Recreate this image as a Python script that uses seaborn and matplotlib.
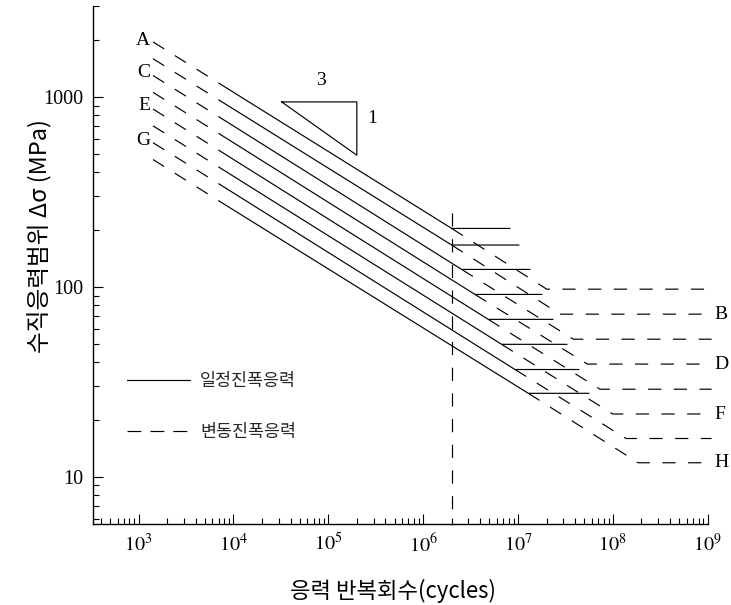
import numpy as np
import pandas as pd
import matplotlib
matplotlib.use("Agg")
import matplotlib.pyplot as plt
import seaborn as sns
from matplotlib.lines import Line2D
from matplotlib.ticker import FixedLocator, FixedFormatter, LogLocator, NullFormatter

# ---------------- data ----------------
categories = ["A", "B", "C", "D", "E", "F", "G", "H"]

# start of the dashed extrapolated part (low cycles)
N_start = [1420, 1420, 1420, 1420, 1420, 1420, 1420, 1420]
S_start = [1948, 1589, 1296, 1057, 863, 704, 574, 468]
# start of the solid sloped part
N_solid = [7400, 7400, 7400, 7400, 7400, 7400, 7400, 7400]
S_solid = [1162, 948, 773, 631, 515, 420, 343, 279]
# constant amplitude fatigue limit knee and its horizontal end
N_cafl = [2.0e6, 2.0e6, 2.55e6, 3.52e6, 4.86e6, 6.73e6, 9.30e6, 1.285e7]
S_cafl = [203, 166, 123.5, 91.2, 67.4, 49.8, 36.7, 27.5]
N_cafl_end = [8.24e6, 1.025e7, 1.34e7, 1.79e7, 2.34e7, 3.29e7, 4.40e7, 5.6e7]
# variable amplitude fatigue limit knee
N_vafl = [2.01e7, 2.77e7, 3.83e7, 5.38e7, 7.32e7, 9.96e7, 1.376e8, 1.855e8]
S_vafl = [97.2, 71.8, 53.0, 39.2, 28.9, 21.4, 15.9, 11.85]
N_end = [1.1e9, 1.1e9, 1.1e9, 1.1e9, 1.1e9, 1.1e9, 1.1e9, 1.1e9]

# 2 x 10^6 reference line
N_ref = [2.0e6, 2.0e6]
S_ref = [244, 5.6]

# slope triangle
tri_N = [3.23e4, 2.0e5, 2.0e5, 3.23e4]
tri_S = [941, 941, 493, 941]
tri_text = ["3", "1"]
tri_text_N = [8.4e4, 2.9e5]
tri_text_S = [1224, 773]

left_labels = ["A", "C", "E", "G"]
left_label_S = [1987, 1349, 904, 592]
left_label_N = 1330
right_labels = ["B", "D", "F", "H"]
right_label_S = [71.8, 39.2, 21.4, 11.85]
right_label_N = 1.17e9

xtick_vals = [1e3, 1e4, 1e5, 1e6, 1e7, 1e8, 1e9]
xtick_labels = [r"$10^{3}$", r"$10^{4}$", r"$10^{5}$", r"$10^{6}$",
                r"$10^{7}$", r"$10^{8}$", r"$10^{9}$"]
ytick_vals = [10, 100, 1000]
ytick_labels = ["10", "100", "1000"]

legend_labels = ["일정진폭응력", "변동진폭응력"]
xlabel = "응력 반복회수(cycles)"
ylabel = "수직응력범위 Δσ (MPa)"

# ---------------- build segment tables ----------------
solid_rows, dashed_rows = [], []
for i, c in enumerate(categories):
    # dashed low-cycle part
    dashed_rows += [(f"{c}0", N_start[i], S_start[i]), (f"{c}0", N_solid[i], S_solid[i])]
    # solid sloped + CAFL horizontal
    solid_rows += [(f"{c}1", N_solid[i], S_solid[i]), (f"{c}1", N_cafl[i], S_cafl[i]),
                   (f"{c}1", N_cafl_end[i], S_cafl[i])]
    # dashed variable amplitude continuation
    dashed_rows += [(f"{c}2", N_cafl[i], S_cafl[i]), (f"{c}2", N_vafl[i], S_vafl[i]),
                    (f"{c}2", N_end[i], S_vafl[i])]
dashed_rows += [("ref", N_ref[0], S_ref[0]), ("ref", N_ref[1], S_ref[1])]
solid_rows += [("tri", n, s) for n, s in zip(tri_N, tri_S)]

df_solid = pd.DataFrame(solid_rows, columns=["seg", "N", "S"])
df_dashed = pd.DataFrame(dashed_rows, columns=["seg", "N", "S"])

# ---------------- style ----------------
sns.set_theme(style="ticks")
plt.rcParams["font.family"] = ["Noto Sans CJK KR", "DejaVu Sans"]
plt.rcParams["mathtext.fontset"] = "stix"
plt.rcParams["lines.scale_dashes"] = False
plt.rcParams["axes.unicode_minus"] = False

DASH = (0, (9.5, 9.0))
LW = 0.85

fig = plt.figure(figsize=(7.31, 6.05), dpi=100)
ax = fig.add_axes([93 / 731, 1 - 524 / 605, (707.7 - 93) / 731, (524 - 6) / 605])
ax.set_xscale("log")
ax.set_yscale("log")

sns.lineplot(data=df_solid, x="N", y="S", units="seg", estimator=None, sort=False,
             color="black", lw=LW, ax=ax, legend=False)
sns.lineplot(data=df_dashed, x="N", y="S", units="seg", estimator=None, sort=False,
             color="black", lw=LW, linestyle=DASH, ax=ax, legend=False)
for ln in ax.get_lines():
    ln.set_clip_on(False)

ax.set_xlim(331, 1e9)
ax.set_ylim(5.64, 3010)

for s in ["top", "right"]:
    ax.spines[s].set_visible(False)
for s in ["left", "bottom"]:
    ax.spines[s].set_linewidth(1.0)
    ax.spines[s].set_color("black")

ax.xaxis.set_major_locator(FixedLocator(xtick_vals))
ax.xaxis.set_major_formatter(FixedFormatter(xtick_labels))
ax.yaxis.set_major_locator(FixedLocator(ytick_vals))
ax.yaxis.set_major_formatter(FixedFormatter(ytick_labels))
ax.xaxis.set_minor_locator(LogLocator(base=10, subs=np.arange(2, 10), numticks=20))
ax.yaxis.set_minor_locator(LogLocator(base=10, subs=np.arange(2, 10), numticks=20))
ax.xaxis.set_minor_formatter(NullFormatter())
ax.yaxis.set_minor_formatter(NullFormatter())
ax.tick_params(which="both", direction="in", color="black", width=0.8)
ax.tick_params(which="major", length=7, pad=7, labelsize=14.5)
ax.tick_params(which="minor", length=4)
for t in ax.get_xticklabels() + ax.get_yticklabels():
    t.set_family("Liberation Serif")
    t.set_color("black")

ax.set_xlabel(xlabel, fontsize=16, color="black")
ax.xaxis.set_label_coords(0.488, -0.106)
ax.set_ylabel(ylabel, fontsize=17, color="black")
ax.yaxis.set_label_coords(-0.066, 0.556)

for lab, s in zip(left_labels, left_label_S):
    ax.text(left_label_N, s, lab, ha="right", va="center", fontsize=14,
            family="Liberation Serif", color="black")
for lab, s in zip(right_labels, right_label_S):
    ax.text(right_label_N, s, lab, ha="left", va="center", fontsize=14,
            family="Liberation Serif", color="black")
for lab, n, s in zip(tri_text, tri_text_N, tri_text_S):
    ax.text(n, s, lab, ha="center", va="center", fontsize=14,
            family="Liberation Serif", color="black")

handles = [Line2D([], [], color="black", lw=LW),
           Line2D([], [], color="black", lw=LW, linestyle=(0, (10, 6.5)))]
leg = ax.legend(handles, legend_labels, loc="center left",
                bbox_to_anchor=((127 - 93) / 614.7, (524 - 406.5) / 518),
                frameon=False, fontsize=12.5, handlelength=3.6, handletextpad=0.6,
                labelspacing=1.9, borderpad=0, borderaxespad=0)

fig.savefig("out.png", dpi=100, facecolor="white")
